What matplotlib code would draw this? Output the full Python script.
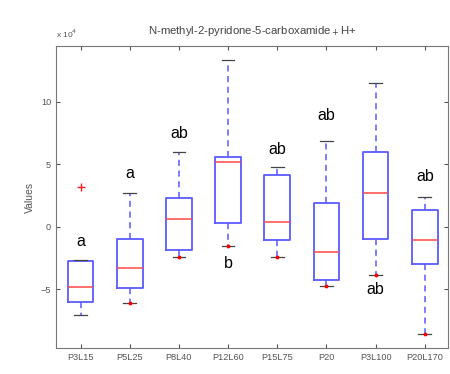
import matplotlib.pyplot as plt

plt.rcParams['font.family'] = ['Liberation Sans', 'DejaVu Sans']

# groups and box statistics (units of 1e4)
groups = ['P3L15', 'P5L25', 'P8L40', 'P12L60', 'P15L75', 'P20', 'P3L100', 'P20L170']
whis_hi = [-2.65, 2.67, 5.95, 13.34, 4.75, 6.88, 11.47, 2.38]
q3 = [-2.72, -1.01, 2.27, 5.60, 4.16, 1.90, 5.98, 1.31]
med = [-4.80, -3.28, 0.59, 5.18, 0.38, -2.02, 2.70, -1.09]
q1 = [-6.00, -4.90, -1.84, 0.32, -1.09, -4.26, -0.96, -2.98]
whis_lo = [-7.06, -6.13, -2.45, -1.52, -2.40, -4.74, -3.86, -8.60]
outliers = [[3.15], [], [], [], [], [], [], []]
low_dot = [False, True, True, True, True, True, True, True]

# significance letters
letters = ['a', 'a', 'ab', 'b', 'ab', 'ab', 'ab', 'ab']
letter_y = [-1.2, 4.27, 7.47, -2.98, 6.14, 8.86, -5.06, 4.0]

stats = []
for i in range(len(groups)):
    stats.append(dict(med=med[i], q1=q1[i], q3=q3[i], whislo=whis_lo[i],
                      whishi=whis_hi[i], fliers=outliers[i], label=groups[i]))

fig = plt.figure(figsize=(4.5, 3.74), dpi=100)
ax = fig.add_axes([0.1244, 0.0695, 0.871, 0.8075])

blue = '#5a5aff'
ax.bxp(stats, positions=range(1, 9), widths=0.52, showfliers=True,
       boxprops=dict(color=blue, lw=1.3),
       medianprops=dict(color='#ff4848', lw=1.1),
       whiskerprops=dict(color=blue, lw=1.1, ls=(0, (4, 3))),
       capprops=dict(color='#444444', lw=0.9),
       flierprops=dict(marker='+', markeredgecolor='#ff2020', markersize=6, mew=1.0))

# red marks at the lower whisker ends
xs = [i + 1 for i in range(len(groups)) if low_dot[i]]
ys = [whis_lo[i] for i in range(len(groups)) if low_dot[i]]
ax.plot(xs, ys, ls='none', marker='o', color='red', markersize=1.8, zorder=5)

for i, (lab, y) in enumerate(zip(letters, letter_y)):
    ax.text(i + 1, y, lab, ha='center', va='center', fontsize=11.5, color='black')

ax.set_xlim(0.5, 8.47)
ax.set_ylim(-9.7, 14.45)
ax.set_yticks([-5, 0, 5, 10])
ax.set_xticks(range(1, 9))
ax.set_xticklabels(groups)
ax.tick_params(direction='in', length=3, top=True, right=True,
               labelsize=6.6, colors='#555555', width=0.8)
for s in ax.spines.values():
    s.set_color('#777777')
    s.set_linewidth(0.8)

ax.set_ylabel('Values', fontsize=7.5, color='#555555', labelpad=4)
ax.set_title('N-methyl-2-pyridone-5-carboxamide$_+$H+', fontsize=8.2,
             color='#444444', pad=9)
ax.text(0.0, 1.02, r'x 10$^4$', transform=ax.transAxes, fontsize=6,
        color='#555555', va='bottom', ha='left')

fig.savefig('out.png', dpi=100)
